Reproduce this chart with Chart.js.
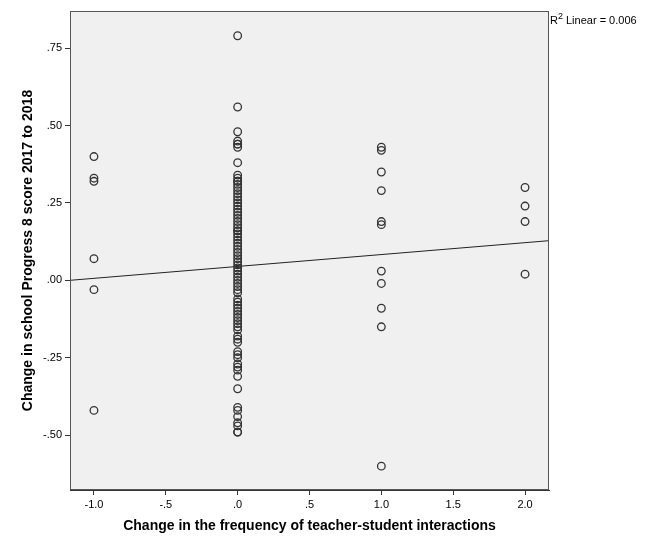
<!DOCTYPE html>
<html>
<head>
<meta charset="utf-8">
<script src="https://cdn.jsdelivr.net/npm/chart.js@4.4.1/dist/chart.umd.min.js"></script>
<style>
  html, body { margin: 0; padding: 0; background: #fff; }
  #wrap { width: 656px; height: 546px; }
</style>
</head>
<body>
<div id="wrap"><canvas id="scatterChart" width="656" height="546"></canvas></div>
<script>
  // Values
  const yAtMinus1 = [0.40, 0.33, 0.32, 0.07, -0.03, -0.42];
  const yAtZero = [0.79, 0.56, 0.48, 0.45, 0.44, 0.44, 0.43, 0.38, 0.34, 0.33, 0.32, 0.32,
    0.31, 0.30, 0.29, 0.28, 0.27, 0.26, 0.25, 0.24, 0.23, 0.22, 0.21, 0.20, 0.19, 0.18,
    0.17, 0.16, 0.16, 0.15, 0.14, 0.13, 0.12, 0.11, 0.10, 0.09, 0.08, 0.07, 0.06, 0.05,
    0.04, 0.03, 0.02, 0.01, 0.00, -0.01, -0.02, -0.03, -0.04, -0.06, -0.07, -0.08, -0.09,
    -0.10, -0.11, -0.12, -0.13, -0.14, -0.15, -0.16, -0.18, -0.19, -0.20, -0.23, -0.24,
    -0.25, -0.27, -0.28, -0.29, -0.31, -0.35, -0.41, -0.42, -0.44, -0.46, -0.47, -0.49, -0.49];
  const yAtOne = [0.43, 0.42, 0.35, 0.29, 0.19, 0.18, 0.03, -0.01, -0.09, -0.15, -0.60];
  const yAtTwo = [0.30, 0.24, 0.19, 0.02];

  const xTicks = [-1.0, -0.5, 0.0, 0.5, 1.0, 1.5, 2.0];
  const xTickLabels = ['-1.0', '-.5', '.0', '.5', '1.0', '1.5', '2.0'];
  const yTicks = [-0.5, -0.25, 0, 0.25, 0.5, 0.75];
  const yTickLabels = ['-.50', '-.25', '.00', '.25', '.50', '.75'];

  // Fit line (R2 linear = 0.006)
  const fitIntercept = 0.045;
  const fitSlope = 0.0384;
  const xMin = -1.1667, xMax = 2.1667;
  const yMin = -0.677, yMax = 0.870;

  const points = [];
  yAtMinus1.forEach(y => points.push({ x: -1, y: y }));
  yAtZero.forEach(y => points.push({ x: 0, y: y }));
  yAtOne.forEach(y => points.push({ x: 1, y: y }));
  yAtTwo.forEach(y => points.push({ x: 2, y: y }));

  const fitLine = [xMin, xMax].map(x => ({ x: x, y: fitIntercept + fitSlope * x }));

  const fontFamily = 'Arial, "Liberation Sans", sans-serif';

  // Plot frame, background and R2 note
  const framePlugin = {
    id: 'frame',
    beforeDraw(chart) {
      const { ctx, chartArea: a } = chart;
      ctx.save();
      ctx.fillStyle = '#f0f0f0';
      ctx.fillRect(a.left, a.top, a.right - a.left, a.bottom - a.top);
      ctx.restore();
    },
    afterDraw(chart) {
      const { ctx, chartArea: a } = chart;
      ctx.save();
      ctx.strokeStyle = '#555';
      ctx.lineWidth = 1;
      ctx.strokeRect(a.left + 0.5, a.top + 0.5, a.right - a.left - 1, a.bottom - a.top - 1);
      ctx.fillStyle = '#000';
      ctx.textBaseline = 'alphabetic';
      ctx.font = '11px ' + fontFamily;
      let x = a.right + 1;
      ctx.fillText('R', x, 24);
      x += ctx.measureText('R').width;
      ctx.font = '9px ' + fontFamily;
      ctx.fillText('2', x, 19);
      x += ctx.measureText('2').width;
      ctx.font = '11px ' + fontFamily;
      ctx.fillText(' Linear = 0.006', x, 24);
      ctx.restore();
    }
  };

  const ctx = document.getElementById('scatterChart').getContext('2d');
  const scatterChart = new Chart(ctx, {
    type: 'scatter',
    data: {
      datasets: [{
        label: 'Schools',
        data: points,
        pointStyle: 'circle',
        pointRadius: 3.8,
        pointHoverRadius: 3.8,
        borderColor: '#333',
        borderWidth: 1.3,
        backgroundColor: 'rgba(0,0,0,0)'
      }, {
        type: 'line',
        label: 'Linear fit',
        data: fitLine,
        borderColor: '#222',
        borderWidth: 1,
        pointRadius: 0,
        fill: false
      }]
    },
    options: {
      responsive: false,
      animation: false,
      layout: {
        padding: { left: 0, top: 11, right: 107, bottom: 0 }
      },
      plugins: {
        legend: { display: false },
        tooltip: { enabled: false }
      },
      scales: {
        x: {
          type: 'linear',
          min: xMin,
          max: xMax,
          afterBuildTicks: scale => {
            scale.ticks = xTicks.map(v => ({ value: v }));
          },
          afterFit: scale => { scale.height = 56; },
          ticks: {
            callback: (val) => xTickLabels[xTicks.indexOf(val)],
            color: '#000',
            padding: 3,
            maxRotation: 0,
            font: { family: fontFamily, size: 11 }
          },
          grid: {
            drawOnChartArea: false,
            drawTicks: true,
            tickLength: 5,
            color: '#333'
          },
          border: { color: '#333' },
          title: {
            display: true,
            text: 'Change in the frequency of teacher-student interactions',
            color: '#000',
            padding: { top: 0, bottom: 11 },
            font: { family: fontFamily, size: 14, weight: 'bold' }
          }
        },
        y: {
          type: 'linear',
          min: yMin,
          max: yMax,
          afterBuildTicks: scale => {
            scale.ticks = yTicks.map(v => ({ value: v }));
          },
          afterFit: scale => { scale.width = 70; },
          ticks: {
            callback: (val) => yTickLabels[yTicks.indexOf(val)],
            color: '#000',
            padding: 3,
            font: { family: fontFamily, size: 11 }
          },
          grid: {
            drawOnChartArea: false,
            drawTicks: true,
            tickLength: 5,
            color: '#333'
          },
          border: { color: '#333' },
          title: {
            display: true,
            text: 'Change in school Progress 8 score 2017 to 2018',
            color: '#000',
            padding: { top: 20, bottom: 0 },
            font: { family: fontFamily, size: 14, weight: 'bold' }
          }
        }
      }
    },
    plugins: [framePlugin]
  });
</script>
</body>
</html>
